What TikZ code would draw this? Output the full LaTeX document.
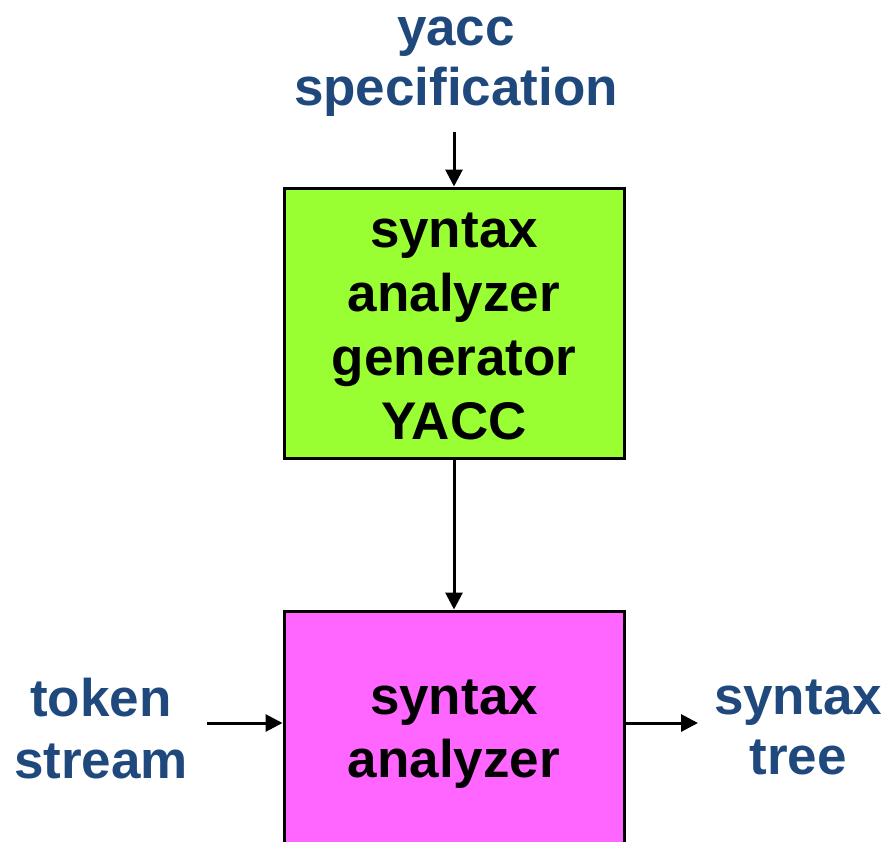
\documentclass[tikz,border=0pt]{standalone}
\usepackage{fontspec}
\setmainfont{Liberation Sans}
\usetikzlibrary{arrows.meta}
\definecolor{labelblue}{RGB}{31,73,125}
\definecolor{gengreen}{RGB}{153,255,51}
\definecolor{anamagenta}{RGB}{255,102,255}
\tikzset{
  stagebox/.style={draw=black, line width=3pt, minimum width=340pt, inner sep=0pt},
  boxtext/.style={align=center, font=\bfseries\fontsize{53}{64}\selectfont, text=black},
  iolabel/.style={align=center, font=\bfseries\fontsize{53}{60}\selectfont, text=labelblue},
  flow/.style={line width=3pt, -{Triangle[length=17pt,width=17pt]}}
}
\begin{document}
\begin{tikzpicture}[x=1pt, y=-1pt]
  \useasboundingbox (0,0) rectangle (889,841);
  % generator box and parser box
  \node[stagebox, fill=gengreen, minimum height=270pt] (gen) at (454,323) {};
  \node[boxtext] (gentext) at (454,326) {syntax\\analyzer\\generator\\YACC};
  \begin{scope}
    \clip (0,0) rectangle (889,841);
    \node[stagebox, fill=anamagenta, minimum height=250pt] (parser) at (454,736) {};
  \end{scope}
  \node[boxtext, font=\bfseries\fontsize{53}{63}\selectfont] (partext) at (454,734) {syntax\\analyzer};
  % inputs and outputs
  \node[iolabel] (spec) at (456,67) {yacc\\specification};
  \node[iolabel, font=\bfseries\fontsize{53}{62}\selectfont] (tokens) at (101,729) {token\\stream};
  \node[iolabel] (tree) at (798,727) {syntax\\tree};
  \coordinate (specend) at (454,132);
  \coordinate (tokend) at (207,723);
  \coordinate (treeend) at (698,723);
  \draw[flow] (specend) -- (gen.north);
  \draw[flow] (gen.south) -- (parser.north);
  \draw[flow] (tokend) -- (tokend -| parser.west);
  \draw[flow] (treeend -| parser.east) -- (treeend);
\end{tikzpicture}
\end{document}
